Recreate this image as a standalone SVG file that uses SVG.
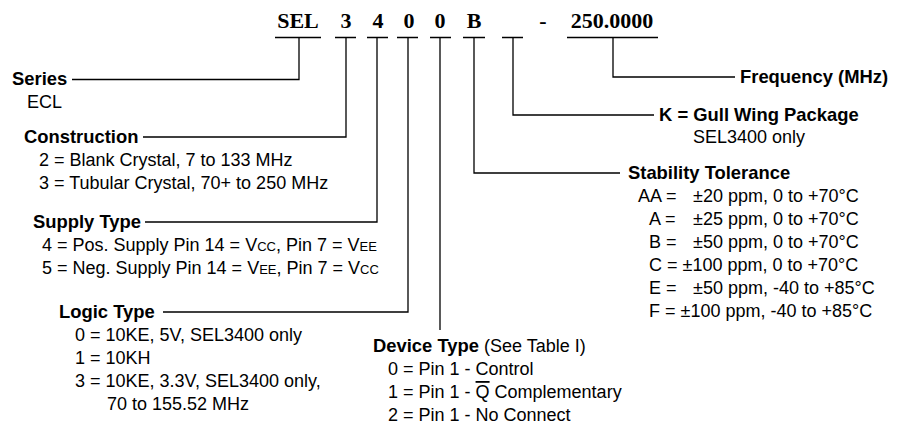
<svg xmlns="http://www.w3.org/2000/svg" width="906" height="432" viewBox="0 0 906 432">
<style>
.t{font-family:"Liberation Sans",Arial,sans-serif;font-size:18px;fill:#000}
.b{font-weight:bold;font-size:18.4px}
.h{font-family:"Liberation Serif","Times New Roman",serif;font-size:22px;font-weight:bold;fill:#000;text-anchor:middle}
.s{font-size:13px}
.c{fill:none;stroke:#000;stroke-width:1.3}
</style>
<rect width="906" height="432" fill="#fff"/>
<g id="title">
<text class="h" x="298" y="28">SEL</text>
<text class="h" x="346" y="28">3</text>
<text class="h" x="378" y="28">4</text>
<text class="h" x="409" y="28">0</text>
<text class="h" x="440" y="28">0</text>
<text class="h" x="474" y="28">B</text>
<text class="h" x="543" y="28">-</text>
<text class="h" x="612" y="28">250.0000</text>
</g>
<g id="connectors" class="c">
<path d="M275 37.5H321M335 37.5H356M367 37.5H388M397 37.5H418M430 37.5H451M463 37.5H485M502 37.5H523M567 37.5H658"/>
<path d="M299 37.5V79.5H72"/>
<path d="M346 37.5V137H143"/>
<path d="M377 37.5V222H145"/>
<path d="M408 37.5V312H163"/>
<path d="M440 37.5V330"/>
<path d="M474 37.5V173H620"/>
<path d="M513 37.5V115H654"/>
<path d="M613 37.5V77H735"/>
</g>
<g id="series" class="t">
<text class="b" x="12" y="85">Series</text>
<text x="27" y="108">ECL</text>
</g>
<g id="construction" class="t">
<text class="b" x="24" y="143">Construction</text>
<text x="39" y="166">2 = Blank Crystal, 7 to 133 MHz</text>
<text x="39" y="189">3 = Tubular Crystal, 70+ to 250 MHz</text>
</g>
<g id="supply" class="t">
<text class="b" x="33" y="228">Supply Type</text>
<text x="42" y="251">4 = Pos. Supply Pin 14 = V<tspan class="s">CC</tspan>, Pin 7 = V<tspan class="s">EE</tspan></text>
<text x="42" y="274">5 = Neg. Supply Pin 14 = V<tspan class="s">EE</tspan>, Pin 7 = V<tspan class="s">CC</tspan></text>
</g>
<g id="logic" class="t">
<text class="b" x="59" y="318">Logic Type</text>
<text x="75" y="341">0 = 10KE, 5V, SEL3400 only</text>
<text x="75" y="364">1 = 10KH</text>
<text x="75" y="387">3 = 10KE, 3.3V, SEL3400 only,</text>
<text x="107" y="410">70 to 155.52 MHz</text>
</g>
<g id="device" class="t">
<text x="373" y="352"><tspan class="b">Device Type</tspan> (See Table I)</text>
<text x="388" y="375">0 = Pin 1 - Control</text>
<text x="388" y="398">1 = Pin 1 - <tspan style="text-decoration:overline">Q</tspan> Complementary</text>
<text x="388" y="421">2 = Pin 1 - No Connect</text>
</g>
<g id="frequency" class="t">
<text class="b" x="740" y="83">Frequency (MHz)</text>
</g>
<g id="package" class="t">
<text class="b" x="659" y="121">K = Gull Wing Package</text>
<text x="693" y="143">SEL3400 only</text>
</g>
<g id="stability" class="t">
<text class="b" x="628" y="179">Stability Tolerance</text>
<text x="638" y="202">AA =</text><text x="693" y="202">±20 ppm, 0 to +70°C</text>
<text x="649" y="225">A =</text><text x="693" y="225">±25 ppm, 0 to +70°C</text>
<text x="649" y="248">B =</text><text x="693" y="248">±50 ppm, 0 to +70°C</text>
<text x="649" y="271">C = ±100 ppm, 0 to +70°C</text>
<text x="649" y="294">E =</text><text x="693" y="294">±50 ppm, -40 to +85°C</text>
<text x="649" y="317">F = ±100 ppm, -40 to +85°C</text>
</g>
</svg>
